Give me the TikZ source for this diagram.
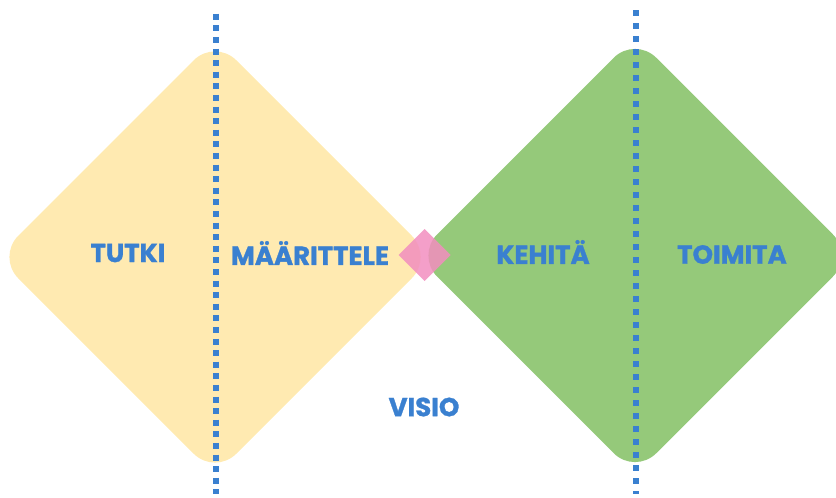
\documentclass[tikz,border=0pt]{standalone}
\usepackage{fontspec}
\setmainfont{Poppins}[BoldFeatures={FakeBold=1.2}]
\definecolor{ylw}{HTML}{FFEAB1}
\definecolor{grn}{HTML}{95C97A}
\definecolor{pnk}{HTML}{F28EBF}
\definecolor{blu}{HTML}{3A80D0}
\begin{document}
\begin{tikzpicture}[x=1pt,y=-1pt,
  lbl/.style={text=blu,font=\fontsize{26}{30}\selectfont\bfseries,inner sep=0pt},
  dotline/.style={draw=blu,line width=6pt}]
\useasboundingbox (0,0) rectangle (836,498);
% diamonds
\fill[ylw,rounded corners=30pt] (215,39) -- (433,257) -- (215,475) -- (-3,257) -- cycle;
\fill[grn,rounded corners=30pt] (635,36.5) -- (854,255.5) -- (635,474.5) -- (416,255.5) -- cycle;
\fill[pnk,opacity=0.85] (424.5,229) -- (450.5,255) -- (424.5,281) -- (398.5,255) -- cycle;
% dotted lines
\coordinate (ya) at (216,13.7);
\coordinate (yb) at (216,494);
\coordinate (ga) at (636,10.3);
\coordinate (gb) at (636,494);
\draw[dotline,dash pattern=on 6pt off 5.6pt] (ya) -- (yb);
\draw[dotline,dash pattern=on 6pt off 7pt] (ga) -- (gb);
% labels
\node[lbl] (tutki) at (128,253) {TUTKI};
\node[lbl] (maar) at (310,253) {MÄÄRITTELE};
\node[lbl] (kehita) at (543,252) {KEHITÄ};
\node[lbl] (toimita) at (732,254.5) {TOIMITA};
\node[lbl] (visio) at (424,407) {VISIO};
\end{tikzpicture}
\end{document}
